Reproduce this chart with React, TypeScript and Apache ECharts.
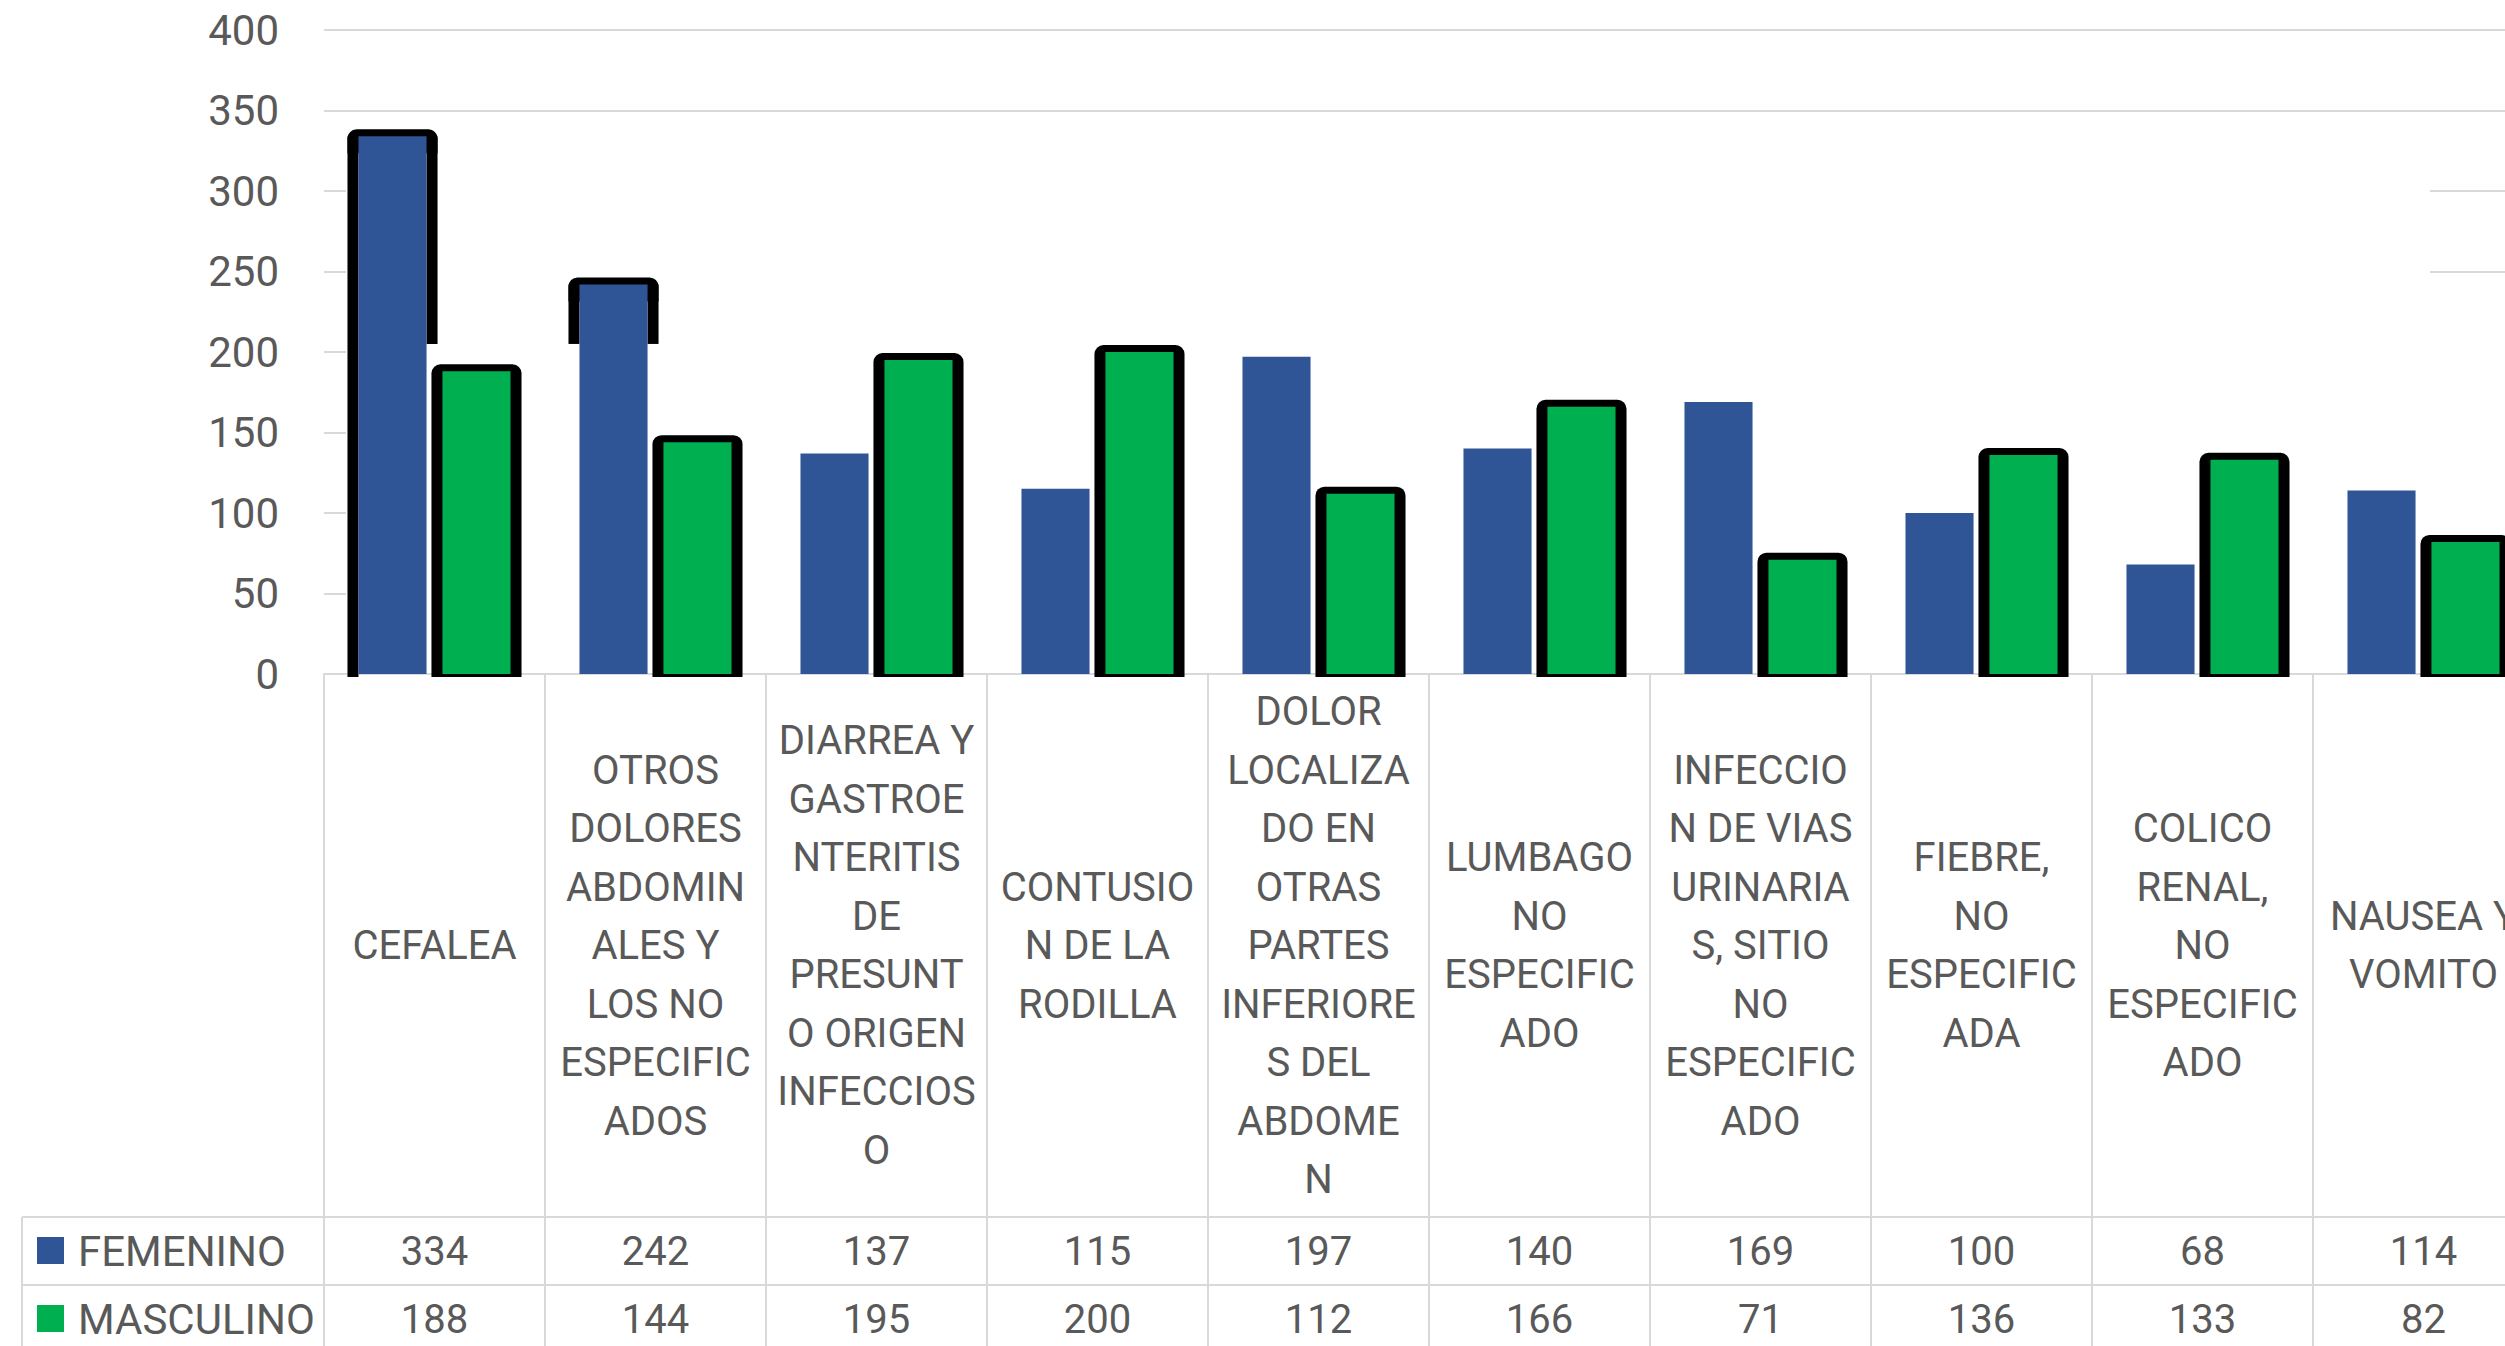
import React, { useEffect, useRef } from "react";
import * as echarts from "echarts";

// ---------- data ----------
const categories = [
  "CEFALEA",
  "OTROS\nDOLORES\nABDOMIN\nALES Y\nLOS NO\nESPECIFIC\nADOS",
  "DIARREA Y\nGASTROE\nNTERITIS\nDE\nPRESUNT\nO ORIGEN\nINFECCIOS\nO",
  "CONTUSIO\nN DE LA\nRODILLA",
  "DOLOR\nLOCALIZA\nDO EN\nOTRAS\nPARTES\nINFERIORE\nS DEL\nABDOME\nN",
  "LUMBAGO\nNO\nESPECIFIC\nADO",
  "INFECCIO\nN DE VIAS\nURINARIA\nS, SITIO\nNO\nESPECIFIC\nADO",
  "FIEBRE,\nNO\nESPECIFIC\nADA",
  "COLICO\nRENAL,\nNO\nESPECIFIC\nADO",
  "NAUSEA Y\nVOMITO",
];
const seriesNames = ["FEMENINO", "MASCULINO"];
const femenino = [334, 242, 137, 115, 197, 140, 169, 100, 68, 114];
const masculino = [188, 144, 195, 200, 112, 166, 71, 136, 133, 82];
const yMin = 0;
const yMax = 400;
const yStep = 50;
// leftover black outline around some FEMENINO bars (category index, left/right edge cut value)
const outlineIdx = [0, 1];
const outlineLeftCut = [0, 205];
const outlineRightCut = [205, 205];

// ---------- style / layout ----------
const BLUE = "#2F5597";
const GREEN = "#00B050";
const TEXT = "#595959";
const LINE = "#D9D9D9";
const FONT = "Roboto";
const W = 2560;
const H = 1346;
const GRID_LEFT = 324;
const GRID_TOP = 30;
const GRID_W = 2210;
const AXIS_Y = 674;
const HEADER_BOTTOM = 1217;
const ROW_H = 68;
const TABLE_LEFT = 22;
const BORDER = 11;

function barBox(api: any) {
  const i = api.value(0);
  const [cx, ty] = api.coord([i, api.value(1)]);
  const by = api.coord([i, 0])[1];
  const bw = api.size([1, 0])[0];
  return { i, cx, ty, by, bw };
}

function renderFem(_p: any, api: any) {
  const { cx, ty, by, bw } = barBox(api);
  const x0 = cx - bw * 0.344;
  const x1 = cx - bw * 0.036;
  return {
    type: "rect",
    shape: { x: x0, y: ty, width: x1 - x0, height: by - ty },
    style: { fill: BLUE },
  };
}

function renderMasc(_p: any, api: any) {
  const { cx, ty, by, bw } = barBox(api);
  const x0 = cx + bw * 0.036;
  const x1 = cx + bw * 0.344;
  return {
    type: "group",
    children: [
      {
        type: "rect",
        shape: { x: x0 - BORDER, y: ty - 7, width: x1 - x0 + 2 * BORDER, height: by - ty + 10, r: [9, 9, 0, 0] },
        style: { fill: "#000000" },
      },
      {
        type: "rect",
        shape: { x: x0, y: ty, width: x1 - x0, height: by - ty },
        style: { fill: GREEN },
      },
    ],
  };
}

function renderOutline(_p: any, api: any) {
  const { i, cx, ty, bw } = barBox(api);
  const lc = api.value(2);
  const rc = api.value(3);
  const yl = api.coord([i, lc])[1] + (lc === 0 ? 3 : 0);
  const yr = api.coord([i, rc])[1];
  const x0 = cx - bw * 0.344;
  const x1 = cx - bw * 0.036;
  return {
    type: "group",
    children: [
      {
        type: "rect",
        shape: { x: x0 - BORDER, y: ty - 7, width: x1 - x0 + 2 * BORDER, height: 24, r: [9, 9, 0, 0] },
        style: { fill: "#000000" },
      },
      { type: "rect", shape: { x: x0 - BORDER, y: ty, width: BORDER, height: yl - ty }, style: { fill: "#000000" } },
      { type: "rect", shape: { x: x1, y: ty, width: BORDER, height: yr - ty }, style: { fill: "#000000" } },
    ],
  };
}

export default function App() {
  const ref = useRef<HTMLDivElement>(null);
  useEffect(() => {
    document.body.style.margin = "0";
    document.body.style.overflow = "hidden";
    document.documentElement.style.overflow = "hidden";
    if (!ref.current) return;
    const chart = echarts.init(ref.current, null, { renderer: "svg" });
    chart.setOption({
      animation: false,
      backgroundColor: "#ffffff",
      textStyle: { fontFamily: FONT },
      grid: { left: GRID_LEFT, top: GRID_TOP, width: GRID_W, height: AXIS_Y - GRID_TOP, outerBoundsMode: "none" },
      xAxis: {
        type: "category",
        data: categories,
        axisLine: { show: true, lineStyle: { color: LINE, width: 2 } },
        axisTick: { show: false },
        splitLine: { show: false },
        axisLabel: {
          interval: 0,
          margin: (HEADER_BOTTOM - AXIS_Y) / 2,
          verticalAlign: "middle",
          align: "center",
          fontSize: 40,
          lineHeight: 58.5,
          color: TEXT,
          fontFamily: FONT,
        },
      },
      yAxis: {
        type: "value",
        min: yMin,
        max: yMax,
        interval: yStep,
        axisLine: { show: false },
        axisTick: { show: false },
        splitLine: { show: true, lineStyle: { color: LINE, width: 2 } },
        axisLabel: { fontSize: 42, color: TEXT, margin: 45, fontFamily: FONT },
      },
      series: [
        {
          type: "custom",
          name: "outline",
          z: 2,
          renderItem: renderOutline,
          encode: { x: 0, y: 1 },
          data: outlineIdx.map((c, k) => [c, femenino[c], outlineLeftCut[k], outlineRightCut[k]]),
        },
        {
          type: "custom",
          name: seriesNames[0],
          z: 3,
          renderItem: renderFem,
          encode: { x: 0, y: 1 },
          data: femenino.map((v, i) => [i, v]),
        },
        {
          type: "custom",
          name: seriesNames[1],
          z: 4,
          renderItem: renderMasc,
          encode: { x: 0, y: 1 },
          data: masculino.map((v, i) => [i, v]),
        },
      ],
    });

    const c0 = chart.convertToPixel({ xAxisIndex: 0 }, 0) as number;
    const c1 = chart.convertToPixel({ xAxisIndex: 0 }, 1) as number;
    const band = c1 - c0;
    const graphics: any[] = [];
    // white areas hiding parts of the gridlines (as in the original)
    graphics.push({
      type: "rect",
      z: 1,
      shape: { x: GRID_LEFT + 22, y: 150, width: 2430 - GRID_LEFT - 22, height: AXIS_Y - 2 - 150 },
      style: { fill: "#ffffff" },
    });
    graphics.push({
      type: "rect",
      z: 1,
      shape: { x: 2430, y: 300, width: W - 2430, height: AXIS_Y - 2 - 300 },
      style: { fill: "#ffffff" },
    });
    // data table lines
    for (let k = 0; k <= categories.length; k++) {
      const x = c0 - band / 2 + band * k;
      graphics.push({
        type: "line",
        z: 1,
        shape: { x1: x, y1: AXIS_Y, x2: x, y2: H },
        style: { stroke: LINE, lineWidth: 2 },
      });
    }
    graphics.push({
      type: "line",
      z: 1,
      shape: { x1: TABLE_LEFT, y1: HEADER_BOTTOM, x2: TABLE_LEFT, y2: H },
      style: { stroke: LINE, lineWidth: 2 },
    });
    for (let r = 0; r < 2; r++) {
      const y = HEADER_BOTTOM + ROW_H * r;
      graphics.push({
        type: "line",
        z: 1,
        shape: { x1: TABLE_LEFT, y1: y, x2: W, y2: y },
        style: { stroke: LINE, lineWidth: 2 },
      });
    }
    const rows = [femenino, masculino];
    const colors = [BLUE, GREEN];
    rows.forEach((vals, r) => {
      const yc = HEADER_BOTTOM + ROW_H * r + ROW_H / 2;
      graphics.push({
        type: "rect",
        z: 1,
        shape: { x: 37, y: yc - 14, width: 27, height: 27 },
        style: { fill: colors[r] },
      });
      graphics.push({
        type: "text",
        z: 1,
        x: 78,
        y: yc,
        style: { text: seriesNames[r], fill: TEXT, fontSize: 42, fontFamily: FONT, align: "left", verticalAlign: "middle" },
      });
      vals.forEach((v, i) => {
        graphics.push({
          type: "text",
          z: 1,
          x: c0 + band * i,
          y: yc,
          style: { text: String(v), fill: TEXT, fontSize: 40, fontFamily: FONT, align: "center", verticalAlign: "middle" },
        });
      });
    });
    chart.setOption({ graphic: { elements: graphics } });

    return () => chart.dispose();
  }, []);
  return <div ref={ref} style={{ width: W, height: H }} />;
}
